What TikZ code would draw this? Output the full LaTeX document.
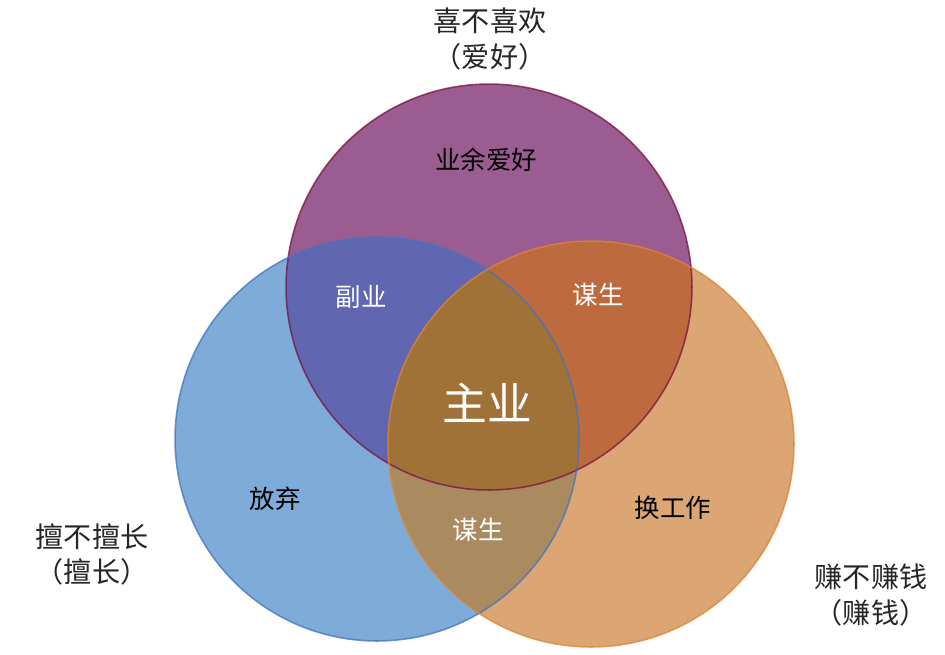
\documentclass[tikz,border=0pt]{standalone}
\usepackage{fontspec}
\setmainfont{Noto Sans CJK SC}
\usetikzlibrary{positioning}
\definecolor{roxo}{RGB}{155,92,145}
\definecolor{azul}{RGB}{127,171,216}
\definecolor{laranja}{RGB}{219,165,116}
\definecolor{roxoazul}{RGB}{96,102,176}
\definecolor{roxolar}{RGB}{188,106,62}
\definecolor{azullar}{RGB}{170,139,96}
\definecolor{centro}{RGB}{161,114,56}
\definecolor{bordaroxo}{RGB}{120,20,65}
\definecolor{bordaazul}{RGB}{65,115,190}
\definecolor{bordalar}{RGB}{222,132,52}
\tikzset{%
    anel/.style     = {line width=0.9pt, opacity=0.75},
    rotulo/.style   = {inner sep=0pt, font=\fontsize{14.5}{16}\selectfont},
    escuro/.style   = {rotulo, text=black},
    claro/.style    = {rotulo, text=white},
    grande/.style   = {inner sep=0pt, text=white, font=\fontsize{25.5}{28}\selectfont},
    titulo/.style   = {inner sep=0pt, align=center, text=black!85,
                       font=\fontsize{16}{20}\selectfont},
}

\begin{document}
\begin{tikzpicture}[x=0.02cm, y=-0.02cm]
    \useasboundingbox (0,0) rectangle (945,654);
    \fill[white] (0,0) rectangle (945,654);

    \coordinate (hobby) at (489,287);
    \coordinate (skill) at (377,439);
    \coordinate (money) at (591,444);

    \fill[roxo]    (hobby) circle[radius=4.06cm];
    \fill[azul]    (skill) circle[radius=4.04cm];
    \fill[laranja] (money) circle[radius=4.06cm];
    \begin{scope}
        \clip (skill) circle[radius=4.04cm];
        \fill[roxoazul] (hobby) circle[radius=4.06cm];
        \fill[azullar]  (money) circle[radius=4.06cm];
    \end{scope}
    \begin{scope}
        \clip (money) circle[radius=4.06cm];
        \fill[roxolar] (hobby) circle[radius=4.06cm];
        \clip (skill) circle[radius=4.04cm];
        \fill[centro]  (hobby) circle[radius=4.06cm];
    \end{scope}

    \draw[anel, bordaroxo] (hobby) circle[radius=4.06cm];
    \draw[anel, bordaazul] (skill) circle[radius=4.04cm];
    \draw[anel, bordalar]  (money) circle[radius=4.06cm];

    \node (amador)  [escuro] at (486,160) {业余爱好};
    \node (extra)   [claro]  at (361,297) {副业};
    \node (vida1)   [claro]  at (598,295) {谋生};
    \node (princ)   [grande] at (487,403) {主业};
    \node (desiste) [escuro] at (275,499) {放弃};
    \node (vida2)   [claro]  at (478,530) {谋生};
    \node (troca)   [escuro] at (673,508) {换工作};

    \node (gosta)   [titulo] at (490,39)  {喜不喜欢\\（爱好）};
    \node (sabe)    [titulo] at (92,554)  {擅不擅长\\（擅长）};
    \node (ganha)   [titulo] at (871,595) {赚不赚钱\\（赚钱）};
\end{tikzpicture}
\end{document}
